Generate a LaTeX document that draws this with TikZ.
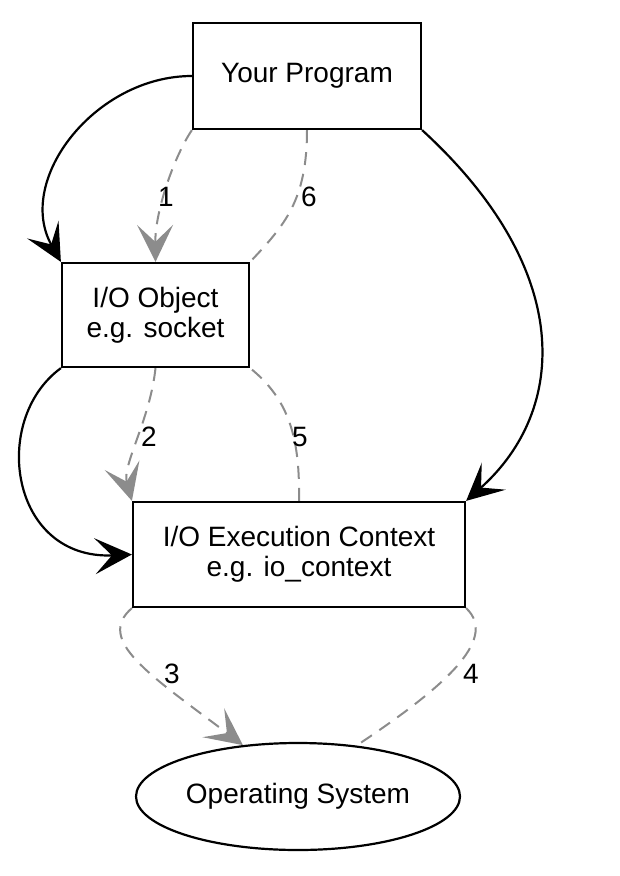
\documentclass[tikz,border=0pt]{standalone}
\usepackage{fontspec}
\setmainfont{Liberation Sans}
\usetikzlibrary{arrows.meta,shapes.geometric}
\definecolor{callc}{HTML}{8C8C8C}
\tikzset{
  box/.style={draw, line width=2.2pt, inner sep=0pt, align=center, font=\fontsize{28}{30}\selectfont},
  flow/.style={line width=2.2pt, -{Stealth[length=37pt, width=36pt, inset=17pt]}},
  call/.style={callc, line width=2pt, dash pattern=on 13pt off 9pt},
  callarr/.style={call, -{Stealth[length=37pt, width=36pt, inset=17pt, sep=0pt]}},
  num/.style={font=\fontsize{28}{29}\selectfont, inner sep=1pt},
}
\begin{document}
\begin{tikzpicture}[x=1pt, y=-1pt]
  \useasboundingbox (0,0) rectangle (619,876);
  % boxes
  \node[box, minimum width=228pt, minimum height=106pt] (prog) at (307,76) {Your Program};
  \node[box, minimum width=187pt, minimum height=104pt] (io) at (155.5,315) {I/O Object\\e.g. socket};
  \node[box, minimum width=332pt, minimum height=105pt] (ctx) at (299,554.5) {I/O Execution Context\\e.g. io\_context};
  \node[box, ellipse, minimum width=324pt, minimum height=107pt] (os) at (298,796.5) {Operating System};
  % solid flows
  \draw[flow] (prog.west) .. controls (95,76) and (15,180) .. (io.north west);
  \draw[flow] (prog.south east) .. controls (575,270) and (568,410) .. (ctx.north east);
  \draw[flow] (io.south west) .. controls (-10,420) and (10,560) .. (ctx.west);
  % dashed calls
  \draw[callarr] (prog.south west) .. controls (175,155) and (155,210) .. (io.north);
  \draw[call] (prog.south) .. controls (307,200) and (285,225) .. (io.north east);
  \draw[callarr] (io.south) .. controls (150,420) and (122,465) .. (ctx.north west);
  \draw[call] (ctx.north) .. controls (300,440) and (290,400) .. (io.south east);
  \draw[callarr] (ctx.south west) .. controls (95,640) and (150,675) .. (os.137);
  \draw[call] (ctx.south east) .. controls (500,640) and (440,690) .. (os.41);
  % numbers
  \node[num] (n1) at (166,197) {1};
  \node[num] (n6) at (309,197) {6};
  \node[num] (n2) at (149,437) {2};
  \node[num] (n5) at (300,437) {5};
  \node[num] (n3) at (172,674) {3};
  \node[num] (n4) at (471,674) {4};
\end{tikzpicture}
\end{document}
